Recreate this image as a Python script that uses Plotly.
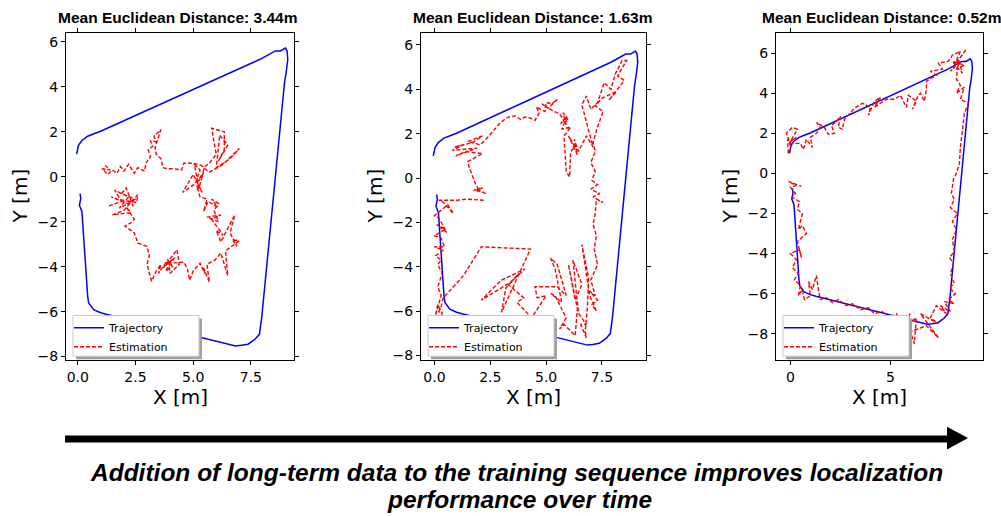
import plotly.graph_objects as go

W, H = 1001, 516

# ---------------- data ----------------
# ground-truth trajectory (same path for all three runs)
TRAJ_X = [-0.05, 0.03, 0.18, 0.43, 0.76, 0.99, 7.9, 8.34, 8.56, 8.78, 8.9, 9.0, 9.07, 9.1, 9.04, 9.0, 8.96,
          7.97, 7.87, 7.68, 7.38, 7.09, 6.84, 1.28, 0.99, 0.69, 0.47, 0.43, 0.18, 0.07, 0.13, 0.1]
TRAJ_Y = [1.0, 1.39, 1.61, 1.8, 1.93, 2.02, 5.22, 5.48, 5.59, 5.59, 5.66, 5.72, 5.59, 5.22, 4.7, 4.33, 4.19,
          -6.28, -7.01, -7.23, -7.45, -7.5, -7.53, -6.13, -6.05, -5.91, -5.61, -5.32, -1.56, -1.27, -0.97, -0.75]

EST1 = [(1.35,-1.3),(1.9,-1.1),(1.6,-0.6),(2.2,-0.9),(1.8,-1.4),(2.5,-1.0),(1.9,-0.75),(2.1,-0.5),(2.4,-1.3),
        (1.45,-0.9),(1.7,-1.0),(2.55,-1.15),(2.6,-0.8),(2.25,-1.2),(2.0,-1.5),(1.5,-1.7),(2.3,-1.6),(2.1,-1.35),
        (2.45,-1.9),(2.3,-2.05),(2.05,-2.2),(2.45,-2.5),(2.6,-2.95),
        (3.0,-3.1),(3.1,-3.5),(3.0,-3.9),(3.2,-4.65),(3.4,-4.2),(3.6,-3.9),(3.5,-4.3),(3.9,-3.7),(4.1,-4.0),
        (3.8,-4.2),(4.2,-3.6),(3.7,-4.05),(4.3,-3.25),(4.4,-3.9),(4.0,-4.3),(3.95,-3.85),(4.6,-3.8),(4.75,-4.1),
        (4.85,-4.6),(5.0,-4.2),(5.3,-3.85),(5.5,-4.3),(5.45,-4.05),(5.7,-4.7),(5.6,-3.9),(5.95,-3.7),(6.2,-3.4),
        (6.5,-4.4),(6.4,-3.3),(6.65,-3.1),(7.0,-2.85),(6.7,-2.8),(6.9,-3.1),(6.6,-2.5),(6.8,-1.7),(6.5,-2.3),
        (6.2,-2.9),(6.0,-2.4),(6.3,-2.6),(5.8,-1.9),(6.2,-1.7),(5.6,-1.8),(6.1,-2.0),(5.9,-1.5),(6.1,-1.2),
        (5.8,-1.0),(6.05,-1.35),(5.65,-1.1),(5.45,-1.55),(5.6,-1.0),(5.3,-0.9),(5.15,-0.4),(5.4,-0.7),
        (5.0,0.1),(4.55,-0.7),(5.1,-0.3),(5.3,0.3),(5.05,0.55),(5.25,-0.5),(5.45,0.2),(5.2,-0.2),(5.35,-0.1),
        (5.5,0.45),(5.7,0.6),(6.0,1.0),(5.8,2.15),(6.35,2.0),(6.35,1.2),(6.1,0.7),(6.5,1.4),(6.15,1.85),
        (6.0,0.4),(6.6,0.8),(7.0,1.25),(6.3,0.55),(5.7,0.2),(5.35,0.5),(5.0,0.6),(4.6,0.6),(4.5,0.3),
        (4.2,0.35),(3.9,0.35),(3.7,0.4),(3.6,0.8),(3.4,1.0),(3.35,1.3),(3.6,2.1),(3.3,1.8),(3.4,1.55),
        (3.15,1.6),(3.25,1.35),(3.05,1.2),(3.15,0.9),(2.95,0.6),(2.9,0.25),(2.6,0.4),(2.45,0.15),(2.2,0.55),
        (2.0,0.25),(1.85,0.45),(1.7,0.15),(1.5,0.3),(1.3,0.1),(1.05,0.35),(1.4,0.3),(1.2,0.5)]

EST2 = [(2.3,-0.7),(1.9,-0.5),(2.2,-0.45),(1.75,-0.55),(2.05,-0.6),(1.85,-0.3),(1.7,0.1),(1.55,0.5),(1.5,0.75),
        (2.15,1.1),(1.4,1.2),(0.95,1.0),(1.9,1.35),(0.8,1.25),(1.3,1.5),(0.9,1.4),(1.7,1.6),(2.15,1.9),(1.5,1.65),
        (2.05,1.5),(2.4,1.85),(2.7,2.2),(2.95,2.5),(3.3,2.75),(3.6,2.8),(3.85,2.65),(4.05,2.75),(4.3,2.7),
        (4.5,2.6),(4.7,2.95),(4.55,3.2),(4.95,3.0),(5.0,3.4),(5.25,3.35),(5.5,3.55),(5.1,3.15),(4.8,3.35),
        (5.35,3.0),(5.6,2.9),(5.9,2.4),(5.75,2.95),(6.0,2.6),(5.65,2.45),(5.95,2.8),(5.7,2.2),(6.1,2.3),
        (5.8,1.9),(5.9,0.3),(6.05,0.05),(6.1,1.2),(6.3,1.4),(6.0,1.9),(6.4,1.05),(6.25,1.75),(6.45,1.2),
        (6.8,1.9),(7.1,1.4),(6.9,2.2),(6.6,3.3),(6.8,3.7),(7.0,3.1),(7.3,3.4),(7.6,4.3),(7.9,4.0),(8.1,4.7),
        (8.4,5.3),(8.6,5.3),(8.2,4.6),(8.5,4.4),(7.8,3.5),(8.15,3.9),(7.5,3.6),(7.2,3.25),(7.55,3.0),(7.3,2.3),
        (7.1,1.6),(7.2,1.2),(7.0,0.7),(7.2,0.3),(7.05,-0.1),(7.3,-0.3),(7.0,-0.5),(7.4,-0.7),(7.1,-0.85),
        (7.55,-1.1),(7.25,-0.95),(7.2,-1.6),(7.1,-2.1),(7.25,-2.6),(7.15,-3.2),(7.3,-3.9),(7.0,-4.6),(7.2,-5.3),
        (6.95,-5.1),(7.3,-5.5),(7.05,-5.7),(7.25,-6.0),(6.95,-5.3),(6.6,-3.0),(6.9,-4.5),(6.85,-5.8),(6.75,-6.9),
        (6.8,-7.2),(6.55,-6.6),(6.8,-6.6),(6.45,-6.1),(6.2,-3.7),(6.6,-4.8),(6.3,-5.5),(6.0,-3.9),(6.4,-5.9),
        (6.3,-7.1),(5.8,-6.6),(5.6,-6.8),(5.9,-6.3),(5.4,-5.3),(5.2,-5.2),(5.7,-5.6),(5.4,-4.1),(5.2,-3.6),
        (5.5,-3.9),(5.9,-5.3),(5.5,-4.9),(4.5,-4.9),(4.6,-5.4),(5.0,-5.3),(4.35,-6.3),(3.7,-5.6),(4.0,-5.4),
        (3.3,-4.8),(4.05,-4.1),(3.0,-4.6),(2.1,-5.5),(3.4,-4.7),(3.8,-4.3),(3.2,-4.95),(3.0,-6.05),(4.3,-3.2),
        (2.1,-3.1),(1.3,-4.4),(0.4,-5.4),(0.3,-5.8),(0.2,-6.0),(0.4,-6.3),(0.1,-6.6),(0.35,-6.1),(0.15,-5.7),
        (0.05,-6.2),(0.3,-5.3),(0.15,-4.9),(0.35,-4.3),(0.15,-3.9),(0.3,-3.7),(0.05,-3.5),(0.4,-3.25),(0.0,-3.1),
        (0.45,-3.1),(0.3,-2.7),(0.0,-2.6),(0.5,-2.3),(0.1,-2.1),(0.55,-2.45),(0.2,-1.8),(0.0,-1.7),(0.25,-1.5),
        (0.6,-1.2),(0.85,-1.6),(0.4,-1.1),(0.2,-1.0),(1.0,-1.0),(1.45,-0.95),(2.2,-1.0)]

EST3 = [(-0.1,1.0),(-0.15,1.7),(0.05,1.3),(-0.2,2.0),(0.1,2.3),(0.35,2.2),(0.0,1.6),(0.3,1.8),(-0.1,1.5),
        (0.5,1.5),(0.65,1.2),(0.8,1.7),(1.1,1.3),(1.0,1.8),(1.3,2.0),(1.5,2.3),(1.3,2.55),(1.7,2.3),(1.9,1.95),
        (2.2,2.0),(2.05,2.4),(2.3,2.6),(2.5,2.85),(2.4,2.3),(2.6,2.2),(2.7,2.7),(3.0,3.0),(3.2,3.25),(3.6,3.5),
        (4.0,3.3),(3.9,2.9),(4.2,3.6),(4.5,3.8),(4.2,3.3),(4.8,3.7),(5.2,3.7),(5.5,3.9),(5.8,3.3),(5.9,3.9),
        (6.3,3.6),(6.1,3.2),(6.4,3.9),(6.5,4.0),(6.7,3.6),(6.8,4.2),(6.8,4.6),(7.3,4.9),(7.0,5.1),(7.6,5.2),
        (7.4,5.5),(7.9,5.6),(8.1,5.9),(8.5,6.1),(8.2,5.4),(8.8,6.2),(8.0,5.1),(8.5,5.6),(8.3,5.2),(8.7,5.4),
        (8.1,5.6),(8.6,5.0),(8.4,5.7),(8.3,4.7),(8.5,4.4),(8.3,4.0),(8.7,4.3),(8.5,3.7),(8.9,3.5),(8.7,3.0),
        (8.6,2.2),(8.5,1.3),(8.45,0.5),(8.3,0.0),(8.15,-0.3),(8.05,-1.0),(8.2,-1.3),(8.0,-1.7),(8.35,-2.0),
        (8.1,-2.4),(8.3,-2.8),(8.1,-3.3),(8.2,-3.9),(7.95,-4.2),(8.15,-4.5),(8.0,-5.0),(8.2,-5.5),(7.95,-5.7),
        (8.25,-6.0),(7.9,-6.3),(8.2,-6.5),(7.7,-6.4),(8.0,-6.9),(7.5,-6.6),(7.8,-7.0),(7.3,-6.6),(7.0,-7.2),
        (7.4,-7.5),(6.5,-7.0),(7.4,-8.2),(6.8,-7.6),(6.0,-7.9),(6.2,-8.5),(6.3,-7.2),(5.8,-7.6),(6.0,-7.0),
        (5.6,-7.4),(5.3,-7.0),(5.0,-7.2),(4.6,-6.9),(4.2,-7.0),(3.9,-6.7),(3.5,-6.8),(3.1,-6.5),(2.8,-6.6),
        (2.4,-6.3),(2.1,-6.45),(1.8,-6.2),(1.5,-6.3),(1.4,-5.8),(1.3,-5.1),(1.1,-5.8),(0.9,-5.4),(1.0,-6.1),
        (0.7,-6.3),(0.6,-5.8),(0.4,-6.1),(0.5,-5.6),(0.2,-5.3),(0.4,-5.0),(0.1,-4.7),(0.3,-4.3),(0.0,-4.0),
        (0.45,-3.8),(0.55,-4.2),(0.35,-3.4),(0.8,-3.0),(0.6,-2.6),(0.4,-2.8),(0.6,-2.0),(0.35,-1.8),(0.45,-1.4),
        (0.1,-1.2),(0.25,-1.0),(0.0,-0.7),(0.3,-0.6),(-0.1,-0.4),(0.55,-0.65)]

TITLES = ["Mean Euclidean Distance: 3.44m", "Mean Euclidean Distance: 1.63m", "Mean Euclidean Distance: 0.52m"]
X_RANGES = [[-0.51, 9.37], [-0.6, 9.47], [-0.72, 9.63]]
Y_RANGES = [[-8.16, 6.4], [-8.21, 6.55], [-9.32, 7.02]]
X_TICKS = [[0, 2.5, 5, 7.5], [0, 2.5, 5, 7.5], [0, 5]]
X_TICKTEXT = [["0.0", "2.5", "5.0", "7.5"], ["0.0", "2.5", "5.0", "7.5"], ["0", "5"]]
Y_TICKS = [-8, -6, -4, -2, 0, 2, 4, 6]
CAPTION = ["Addition of long-term data to the training sequence improves localization",
           "performance over time"]

# ---------------- layout helpers (pixel -> paper) ----------------
def px(x):
    return x / W

def py(y):
    return 1 - y / H

PANELS = [(66, 294), (421, 646), (776, 983)]  # plot-area pixel extents
TOP, BOT = 33, 363
TITLE_CX = [177, 532, 881.5]

fig = go.Figure()
estimates = [EST1, EST2, EST3]
legends = ["legend", "legend2", "legend3"]

for i in range(3):
    xa = "x" if i == 0 else f"x{i+1}"
    ya = "y" if i == 0 else f"y{i+1}"
    fig.add_trace(go.Scatter(x=TRAJ_X, y=TRAJ_Y, mode="lines", name="Trajectory",
                             line=dict(color="#0000ff", width=1.5),
                             xaxis=xa, yaxis=ya, legend=legends[i]))
    ex = [p[0] for p in estimates[i]]
    ey = [p[1] for p in estimates[i]]
    fig.add_trace(go.Scatter(x=ex, y=ey, mode="lines", name="Estimation",
                             line=dict(color="#ff0000", width=1.4, dash="4px,2px"),
                             xaxis=xa, yaxis=ya, legend=legends[i]))

axis_common = dict(showgrid=False, zeroline=False, showline=True, linecolor="black", linewidth=1,
                   mirror="ticks", ticks="outside", ticklen=4, tickwidth=1, tickcolor="black",
                   tickfont=dict(family="DejaVu Sans", size=14, color="black"))

layout = dict(width=W, height=H, margin=dict(l=0, r=0, t=0, b=0),
              paper_bgcolor="white", plot_bgcolor="white", showlegend=True)

shapes = []
annotations = []
for i, (l, r) in enumerate(PANELS):
    sx = "xaxis" if i == 0 else f"xaxis{i+1}"
    sy = "yaxis" if i == 0 else f"yaxis{i+1}"
    layout[sx] = dict(axis_common, domain=[px(l), px(r)], range=X_RANGES[i],
                      tickvals=X_TICKS[i], ticktext=X_TICKTEXT[i],
                      anchor="y" if i == 0 else f"y{i+1}")
    layout[sy] = dict(axis_common, domain=[py(BOT), py(TOP)], range=Y_RANGES[i],
                      tickvals=Y_TICKS, anchor="x" if i == 0 else f"x{i+1}")
    cx = (l + r) / 2
    annotations.append(dict(text=TITLES[i], x=px(TITLE_CX[i]), y=py(18), xref="paper", yref="paper",
                            showarrow=False, xanchor="center", yanchor="middle",
                            font=dict(family="Liberation Sans", size=15.5, color="black", weight="bold")))
    annotations.append(dict(text="X [m]", x=px(cx), y=py(400), xref="paper", yref="paper",
                            showarrow=False, xanchor="center", yanchor="middle",
                            font=dict(family="DejaVu Sans", size=20, color="black")))
    annotations.append(dict(text="Y [m]", x=px(l - 46), y=py((TOP + BOT) / 2), xref="paper", yref="paper",
                            showarrow=False, xanchor="center", yanchor="middle", textangle=-90,
                            font=dict(family="DejaVu Sans", size=20, color="black")))
    # legend (frame drawn with shapes so it can carry a shadow)
    layout[legends[i]] = dict(x=px(l + 3), y=py(BOT + 1), xanchor="left", yanchor="bottom",
                              bgcolor="rgba(0,0,0,0)", borderwidth=0,
                              font=dict(family="DejaVu Sans", size=11, color="black"),
                              tracegroupgap=0, itemwidth=30)
    lx0, lx1, ly0, ly1 = l + 7, l + 133, BOT - 45, BOT - 4
    shapes.append(dict(type="rect", xref="paper", yref="paper",
                       x0=px(lx0 + 3), x1=px(lx1 + 3), y0=py(ly1 + 3), y1=py(ly0 + 3),
                       fillcolor="#a0a0a0", line=dict(width=0), layer="above"))
    shapes.append(dict(type="rect", xref="paper", yref="paper",
                       x0=px(lx0), x1=px(lx1), y0=py(ly1), y1=py(ly0),
                       fillcolor="white", line=dict(width=1, color="#c8c8c8"), layer="above"))

# big arrow
shapes.append(dict(type="rect", xref="paper", yref="paper", x0=px(65), x1=px(948), y0=py(446), y1=py(439),
                   fillcolor="black", line=dict(width=0)))
shapes.append(dict(type="path", xref="paper", yref="paper",
                   path=f"M {px(947)},{py(430)} L {px(968)},{py(441.5)} L {px(947)},{py(453)} Z",
                   fillcolor="black", line=dict(width=0)))

cap_font = dict(family="Liberation Sans", size=24.5, color="black", weight="bold", style="italic")
annotations.append(dict(text=CAPTION[0], x=px(516.5), y=py(476), xref="paper", yref="paper",
                        showarrow=False, xanchor="center", yanchor="middle", font=cap_font))
annotations.append(dict(text=CAPTION[1], x=px(519.5), y=py(503), xref="paper", yref="paper",
                        showarrow=False, xanchor="center", yanchor="middle", font=cap_font))

layout["shapes"] = shapes
layout["annotations"] = annotations
fig.update_layout(**layout)
fig.write_html("out.html", config={"displayModeBar": False},
               post_script="document.body.style.margin='0px';document.body.style.overflow='hidden';")
